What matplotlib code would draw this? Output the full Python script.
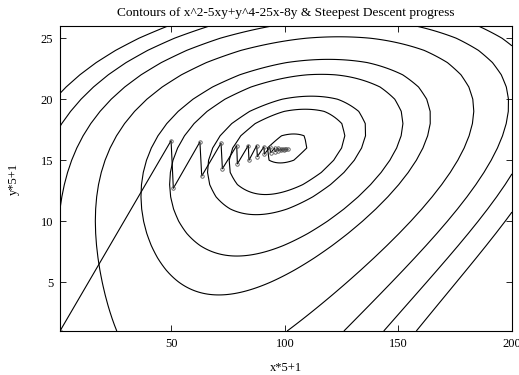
import numpy as np
import matplotlib
matplotlib.use("Agg")
import matplotlib.pyplot as plt

# contour levels of the objective (title formula)
levels = [-340, -320, -300, -250, -200, -100, 0, 100, 200]

# steepest descent iterates, in grid index units (x*5+1, y*5+1)
path_x = [1.0, 49.9, 50.9, 62.6, 63.4, 71.9, 72.5, 78.8, 79.1, 83.9, 84.2,
          87.6, 87.9, 90.8, 91.0, 93.4, 93.7, 95.5, 95.7, 97.0, 97.2, 98.2,
          98.4, 99.2, 99.5, 100.2, 100.6, 101.2]
path_y = [1.0, 16.6, 12.7, 16.5, 13.7, 16.4, 14.3, 16.2, 14.7, 16.2, 15.0,
          16.2, 15.3, 16.1, 15.5, 16.06, 15.6, 16.0, 15.7, 16.0, 15.75, 15.95,
          15.8, 15.95, 15.85, 15.92, 15.88, 15.9]


def f(x, y):
    return x**2 - 5*x*y + y**4 - 25*x - 8*y


plt.rcParams['font.family'] = ['Liberation Serif', 'DejaVu Serif']
plt.rcParams['font.size'] = 9

xs = np.arange(200) * 0.2
ys = np.arange(26) * 0.2
X, Y = np.meshgrid(xs, ys)
Z = f(X, Y)
gi = np.arange(1, 201)
gj = np.arange(1, 27)

fig = plt.figure(figsize=(5.19, 3.75), dpi=100)
ax = fig.add_axes([0.1156, 0.1173, 0.8709, 0.8134])

ax.contour(gi, gj, Z, levels=levels, colors='black', linewidths=0.8,
           linestyles='solid')
ax.plot(path_x, path_y, color='black', linewidth=0.8)
ax.plot(path_x, path_y, linestyle='none', marker='o', markersize=2.5,
        markerfacecolor='none', markeredgecolor='#555555', markeredgewidth=0.6)

ax.set_xlim(1, 200)
ax.set_ylim(1, 26)
ax.set_xticks([50, 100, 150, 200])
ax.set_yticks([5, 10, 15, 20, 25])
ax.tick_params(direction='in', top=True, right=True, length=4, width=0.6, pad=5)
for s in ax.spines.values():
    s.set_linewidth(0.8)

ax.set_title("Contours of x^2-5xy+y^4-25x-8y & Steepest Descent progress",
             fontsize=9.6, pad=7)
ax.set_xlabel("x*5+1", labelpad=9)
ax.set_ylabel("y*5+1", labelpad=15)

fig.savefig("out.png", dpi=100)
